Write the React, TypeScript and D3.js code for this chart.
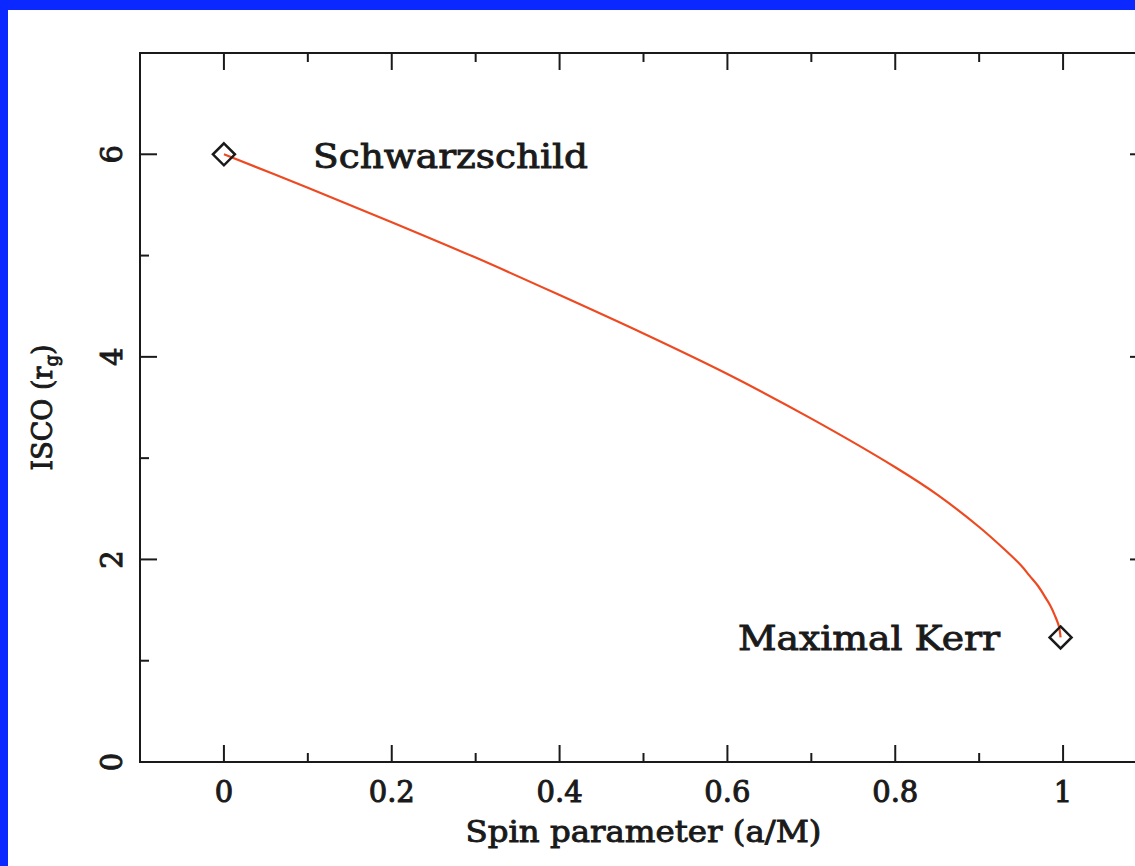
import React from "react";
import * as d3 from "d3";

// Innermost stable circular orbit radius vs black-hole spin
const spinValues = [0, 0.1, 0.2, 0.3, 0.4, 0.5, 0.6, 0.7, 0.8, 0.85, 0.9, 0.93, 0.95, 0.96, 0.97, 0.98, 0.985, 0.99, 0.995, 0.997];
const iscoValues = [6.0, 5.67, 5.33, 4.98, 4.61, 4.23, 3.83, 3.39, 2.91, 2.64, 2.32, 2.1, 1.94, 1.84, 1.74, 1.61, 1.54, 1.45, 1.34, 1.23];

const xTickValues = [0, 0.2, 0.4, 0.6, 0.8, 1];
const xTickLabels = ["0", "0.2", "0.4", "0.6", "0.8", "1"];
const xMinorTicks = [-0.1, 0.1, 0.3, 0.5, 0.7, 0.9];
const yTickValues = [0, 2, 4, 6];
const yTickLabels = ["0", "2", "4", "6"];
const yMinorTicks = [1, 3, 5];

const markerPoints = [
  { a: 0, r: 6.0, label: "Schwarzschild" },
  { a: 0.997, r: 1.23, label: "Maximal Kerr" },
];

const W = 1135;
const H = 866;
const FONT = "'DejaVu Serif', serif";
const INK = "#1a1a1a";

export default function App() {
  const x = d3.scaleLinear().domain([-0.1, 1.1]).range([140, 1147]);
  const y = d3.scaleLinear().domain([0, 7]).range([762, 53]);

  const pts = spinValues.map((a, i) => [a, iscoValues[i]] as [number, number]);
  const line = d3
    .line<[number, number]>()
    .x((d) => x(d[0]))
    .y((d) => y(d[1]))
    .curve(d3.curveCatmullRom.alpha(0.5));

  const [x0, x1] = x.range();
  const [yb, yt] = y.range();
  const major = 17;
  const minor = 9;

  const diamond = (cx: number, cy: number, s: number) =>
    `M${cx},${cy - s}L${cx + s},${cy}L${cx},${cy + s}L${cx - s},${cy}Z`;

  const textStyle = {
    fontFamily: FONT,
    fill: INK,
    stroke: INK,
  };

  return (
    <svg
      width={W}
      height={H}
      style={{ position: "absolute", left: 0, top: 0, display: "block" }}
    >
      <rect x={0} y={0} width={W} height={H} fill="#0a28ff" />
      <rect x={8} y={10} width={W - 8} height={H - 10} fill="#ffffff" />

      {/* frame */}
      <rect
        x={x0}
        y={yt}
        width={x1 - x0}
        height={yb - yt}
        fill="none"
        stroke={INK}
        strokeWidth={2}
      />

      {/* x ticks (bottom and top) */}
      {xTickValues.map((v) => (
        <g key={"xt" + v}>
          <line x1={x(v)} x2={x(v)} y1={yb} y2={yb - major} stroke={INK} strokeWidth={2} />
          <line x1={x(v)} x2={x(v)} y1={yt} y2={yt + major} stroke={INK} strokeWidth={2} />
        </g>
      ))}
      {xMinorTicks.map((v) => (
        <g key={"xm" + v}>
          <line x1={x(v)} x2={x(v)} y1={yb} y2={yb - minor} stroke={INK} strokeWidth={2} />
          <line x1={x(v)} x2={x(v)} y1={yt} y2={yt + minor} stroke={INK} strokeWidth={2} />
        </g>
      ))}

      {/* y ticks (left and right) */}
      {yTickValues.map((v) => (
        <g key={"yt" + v}>
          <line x1={x0} x2={x0 + major} y1={y(v)} y2={y(v)} stroke={INK} strokeWidth={2} />
          <line x1={x1} x2={x1 - major} y1={y(v)} y2={y(v)} stroke={INK} strokeWidth={2} />
        </g>
      ))}
      {yMinorTicks.map((v) => (
        <g key={"ym" + v}>
          <line x1={x0} x2={x0 + minor} y1={y(v)} y2={y(v)} stroke={INK} strokeWidth={2} />
          <line x1={x1} x2={x1 - minor} y1={y(v)} y2={y(v)} stroke={INK} strokeWidth={2} />
        </g>
      ))}

      {/* tick labels */}
      {xTickValues.map((v, i) => (
        <text
          key={"xl" + v}
          x={x(v)}
          y={802}
          textAnchor="middle"
          fontSize={29}
          strokeWidth={1}
          {...textStyle}
        >
          {xTickLabels[i]}
        </text>
      ))}
      {yTickValues.map((v, i) => (
        <text
          key={"yl" + v}
          transform={`translate(122,${y(v)}) rotate(-90)`}
          textAnchor="middle"
          fontSize={29}
          strokeWidth={1}
          {...textStyle}
        >
          {yTickLabels[i]}
        </text>
      ))}

      {/* axis titles */}
      <text
        x={(x0 + x1) / 2}
        y={842}
        textAnchor="middle"
        fontSize={29}
        strokeWidth={0.9}
        textLength={356}
        lengthAdjust="spacingAndGlyphs"
        {...textStyle}
      >
        Spin parameter (a/M)
      </text>
      <text
        transform={`translate(52,${(yt + yb) / 2}) rotate(-90)`}
        textAnchor="middle"
        fontSize={27}
        strokeWidth={0.9}
        {...textStyle}
      >
        ISCO (r
        <tspan fontSize={18} dy={6}>g</tspan>
        <tspan dy={-6}>)</tspan>
      </text>

      {/* ISCO curve */}
      <path d={line(pts) ?? ""} fill="none" stroke="#ee4a22" strokeWidth={2.2} />

      {/* end-point markers */}
      {markerPoints.map((p) => (
        <path
          key={p.label}
          d={diamond(x(p.a), y(p.r), 11)}
          fill="none"
          stroke={INK}
          strokeWidth={2.5}
        />
      ))}

      {/* annotations */}
      <text
        x={313}
        y={168}
        fontSize={34}
        strokeWidth={0.9}
        textLength={275}
        lengthAdjust="spacingAndGlyphs"
        {...textStyle}
      >
        {markerPoints[0].label}
      </text>
      <text
        x={738}
        y={650}
        fontSize={34}
        strokeWidth={0.9}
        textLength={262}
        lengthAdjust="spacingAndGlyphs"
        {...textStyle}
      >
        {markerPoints[1].label}
      </text>
    </svg>
  );
}
